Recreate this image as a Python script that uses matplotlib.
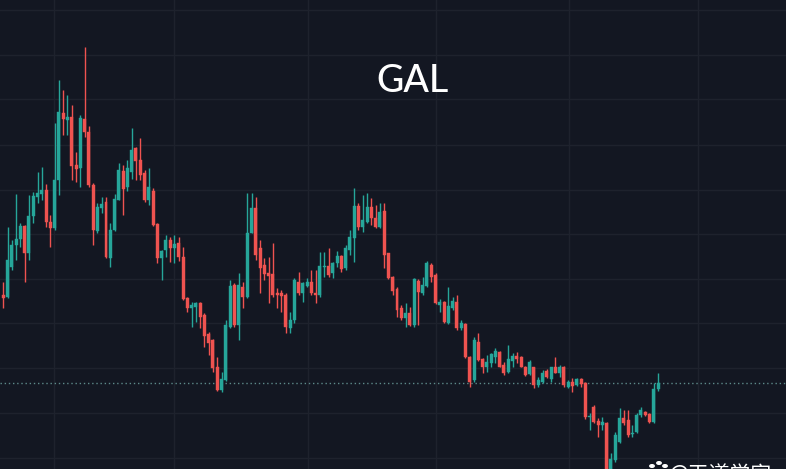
import matplotlib
matplotlib.use("Agg")
import matplotlib.pyplot as plt
from matplotlib.patches import Circle

# ---- data (daily candles) ----
opens = [
    1.85, 1.83, 2.13, 2.35, 2.41, 2.54, 2.27, 2.64, 2.83, 2.86,
    2.90, 2.58, 2.52, 3.00, 3.67, 3.60, 3.63, 3.15, 3.12, 3.61,
    3.48, 2.95, 2.49, 2.72, 2.78, 2.22, 2.50, 2.80, 3.09, 2.93,
    3.08, 3.32, 3.20, 3.07, 2.80, 2.89, 2.56, 2.22, 2.30, 2.40,
    2.32, 2.37, 2.23, 1.82, 1.72, 1.73, 1.77, 1.65, 1.46, 1.40,
    1.13, 0.90, 1.00, 1.53, 1.95, 1.55, 1.93, 1.83, 2.47, 2.72,
    2.32, 2.15, 2.07, 2.06, 1.87, 1.87, 1.85, 1.52, 1.60, 1.98,
    1.87, 1.94, 1.98, 1.87, 1.85, 2.13, 2.14, 2.07, 2.17, 2.24,
    2.12, 2.30, 2.42, 2.74, 2.53, 2.58, 2.73, 2.62, 2.53, 2.69,
    2.27, 2.03, 1.91, 1.72, 1.62, 1.67, 1.55, 1.99, 1.87, 1.94,
    2.15, 2.05, 1.75, 1.78, 1.57, 1.72, 1.78, 1.52, 1.56, 1.23,
    1.00, 1.38, 1.21, 1.13, 1.17, 1.23, 1.28, 1.15, 1.08, 1.19,
    1.24, 1.23, 1.13, 1.06, 1.13, 0.95, 0.98, 1.09, 1.01, 1.13,
    1.07, 1.13, 0.93, 0.98, 0.95, 1.01, 0.97, 0.63, 0.73, 0.59,
    0.55, 0.57, 0.08, 0.20, 0.38, 0.62, 0.60, 0.46, 0.48, 0.65,
    0.68, 0.66, 0.58, 0.91,
]
highs = [
    1.98, 2.53, 2.40, 2.86, 2.57, 2.55, 2.85, 2.88, 3.08, 3.13,
    2.96, 2.65, 3.57, 4.00, 3.90, 3.85, 3.75, 3.28, 3.65, 4.33,
    3.54, 2.97, 2.77, 2.83, 2.83, 2.57, 2.86, 3.17, 3.15, 3.20,
    3.52, 3.33, 3.42, 3.10, 3.12, 2.92, 2.57, 2.30, 2.45, 2.43,
    2.45, 2.43, 2.33, 1.83, 1.78, 1.78, 1.78, 1.67, 1.48, 1.41,
    1.23, 1.08, 1.60, 2.00, 1.97, 2.07, 1.98, 2.87, 2.87, 2.83,
    2.40, 2.22, 2.23, 2.37, 1.92, 1.90, 1.87, 1.68, 2.02, 2.08,
    1.98, 2.02, 2.10, 2.10, 2.28, 2.28, 2.32, 2.18, 2.29, 2.25,
    2.35, 2.50, 2.92, 2.77, 2.85, 2.87, 2.82, 2.75, 2.77, 2.77,
    2.27, 2.04, 1.93, 1.75, 1.77, 1.73, 2.02, 2.01, 2.03, 2.19,
    2.17, 2.07, 1.81, 1.79, 1.93, 1.83, 1.85, 1.60, 1.57, 1.24,
    1.43, 1.47, 1.22, 1.25, 1.27, 1.32, 1.29, 1.18, 1.35, 1.27,
    1.28, 1.24, 1.14, 1.20, 1.13, 1.03, 1.10, 1.11, 1.13, 1.23,
    1.15, 1.14, 1.00, 1.02, 1.02, 1.02, 0.98, 0.67, 0.75, 0.62,
    0.63, 0.58, 0.27, 0.48, 0.72, 0.70, 0.70, 0.55, 0.67, 0.73,
    0.69, 0.67, 0.97, 1.07,
]
lows = [
    1.72, 1.82, 2.10, 2.20, 2.33, 1.98, 2.20, 2.57, 2.77, 2.80,
    2.53, 2.33, 2.50, 2.85, 3.45, 3.45, 3.00, 2.98, 2.93, 3.43,
    2.93, 2.35, 2.47, 2.67, 2.22, 2.13, 2.49, 2.80, 2.65, 2.89,
    3.01, 3.00, 3.00, 2.78, 2.75, 2.54, 2.17, 2.00, 2.23, 2.18,
    2.17, 2.19, 1.80, 1.68, 1.53, 1.58, 1.52, 1.33, 1.25, 1.08,
    0.89, 0.88, 0.99, 1.52, 1.53, 1.40, 1.72, 1.82, 2.47, 2.20,
    1.87, 2.00, 1.77, 1.83, 1.72, 1.68, 1.47, 1.47, 1.57, 1.85,
    1.78, 1.93, 1.85, 1.77, 1.83, 2.03, 2.03, 2.02, 2.13, 2.08,
    2.10, 2.25, 2.18, 2.50, 2.48, 2.57, 2.55, 2.52, 2.52, 2.12,
    2.01, 1.85, 1.63, 1.60, 1.53, 1.54, 1.53, 1.55, 1.85, 1.93,
    1.98, 1.76, 1.68, 1.57, 1.56, 1.70, 1.50, 1.50, 1.22, 0.93,
    0.98, 1.19, 1.07, 1.08, 1.13, 1.17, 1.13, 1.05, 1.07, 1.13,
    1.17, 1.13, 1.04, 1.05, 0.92, 0.93, 0.97, 1.02, 0.98, 1.07,
    1.03, 0.93, 0.92, 0.88, 0.94, 0.93, 0.61, 0.50, 0.57, 0.43,
    0.50, 0.02, 0.05, 0.18, 0.37, 0.55, 0.43, 0.43, 0.47, 0.63,
    0.64, 0.57, 0.57, 0.89,
]
closes = [
    1.82, 2.20, 2.35, 2.41, 2.54, 2.27, 2.64, 2.84, 2.87, 2.90,
    2.58, 2.52, 3.00, 3.68, 3.61, 3.63, 3.14, 3.11, 3.62, 3.48,
    2.95, 2.50, 2.73, 2.76, 2.23, 2.50, 2.81, 3.10, 2.91, 3.12,
    3.30, 3.19, 3.05, 2.80, 2.93, 2.55, 2.22, 2.29, 2.40, 2.32,
    2.36, 2.23, 1.81, 1.72, 1.75, 1.77, 1.63, 1.44, 1.37, 1.12,
    0.90, 1.01, 1.55, 1.94, 1.55, 1.95, 1.83, 2.47, 2.72, 2.25,
    2.12, 2.06, 2.04, 1.85, 1.85, 1.84, 1.53, 1.60, 2.00, 1.87,
    1.97, 1.98, 1.87, 1.85, 2.14, 2.14, 2.05, 2.17, 2.24, 2.11,
    2.32, 2.43, 2.74, 2.53, 2.60, 2.73, 2.62, 2.53, 2.68, 2.25,
    2.02, 1.89, 1.70, 1.62, 1.67, 1.55, 2.01, 1.88, 1.95, 2.17,
    2.03, 1.77, 1.78, 1.58, 1.74, 1.79, 1.52, 1.57, 1.23, 0.98,
    1.40, 1.20, 1.13, 1.18, 1.26, 1.29, 1.13, 1.07, 1.21, 1.24,
    1.21, 1.13, 1.05, 1.18, 0.95, 1.00, 1.07, 1.03, 1.13, 1.07,
    1.13, 0.95, 0.98, 0.94, 1.01, 0.96, 0.63, 0.64, 0.58, 0.55,
    0.58, 0.05, 0.21, 0.45, 0.62, 0.57, 0.45, 0.47, 0.65, 0.70,
    0.65, 0.58, 0.91, 0.97,
]
price_grid = [4.70, 4.25, 3.81, 3.35, 2.90, 2.46, 2.01, 1.57, 1.12, 0.67, 0.22]
month_starts = [11.85, 39.9, 71.2, 101.1, 132.2, 162.3]
title = "GAL"
watermark = "@天道学家"

# ---- style ----
BG = "#131722"
GRID = "#1e222d"
UP = "#26a69a"
DOWN = "#ef5350"

fig = plt.figure(figsize=(7.86, 4.69), dpi=100, facecolor=BG)
ax = fig.add_axes([0, 0, 1, 1], facecolor=BG)
ax.set_xlim(-0.77, 182.9)
ax.set_ylim(0.11, 4.80)

for p in price_grid:
    ax.axhline(p, color=GRID, lw=1.0, zorder=0)
for m in month_starts:
    ax.axvline(m, color=GRID, lw=1.0, zorder=0)

idx = list(range(len(opens)))
colors = [UP if c >= o else DOWN for o, c in zip(opens, closes)]
ax.vlines(idx, lows, highs, colors=colors, lw=1.0, zorder=2)
bottoms = [min(o, c) for o, c in zip(opens, closes)]
heights = [max(abs(c - o), 0.012) for o, c in zip(opens, closes)]
ax.bar(idx, heights, bottom=bottoms, width=0.7, color=colors, edgecolor=colors,
       linewidth=0.3, zorder=3)

# last price line
ax.axhline(closes[-1], color="#5d8a8a", lw=1.0, ls=(0, (1, 2)), zorder=1)

ax.set_xticks([])
ax.set_yticks([])
for s in ax.spines.values():
    s.set_visible(False)

fig.text(413 / 786, 1 - 82 / 469, title, color="white", fontsize=27,
         family=["Lato", "DejaVu Sans"], weight="medium", ha="center", va="center")

# watermark at bottom right (partly cut, as in the reference)
fig.text(669 / 786, 1 - 475 / 469, watermark, color="white", fontsize=15,
         family=["Noto Sans CJK SC", "DejaVu Sans"], ha="left", va="center")
for (cx, cy, r) in [(652, 466, 2.2), (659, 463, 2.2), (665, 466, 2.2)]:
    fig.patches.append(Circle((cx / 786, 1 - cy / 469), r / 786, color="white",
                              transform=fig.transFigure, figure=fig))

fig.savefig("out.png", dpi=100, facecolor=BG)
